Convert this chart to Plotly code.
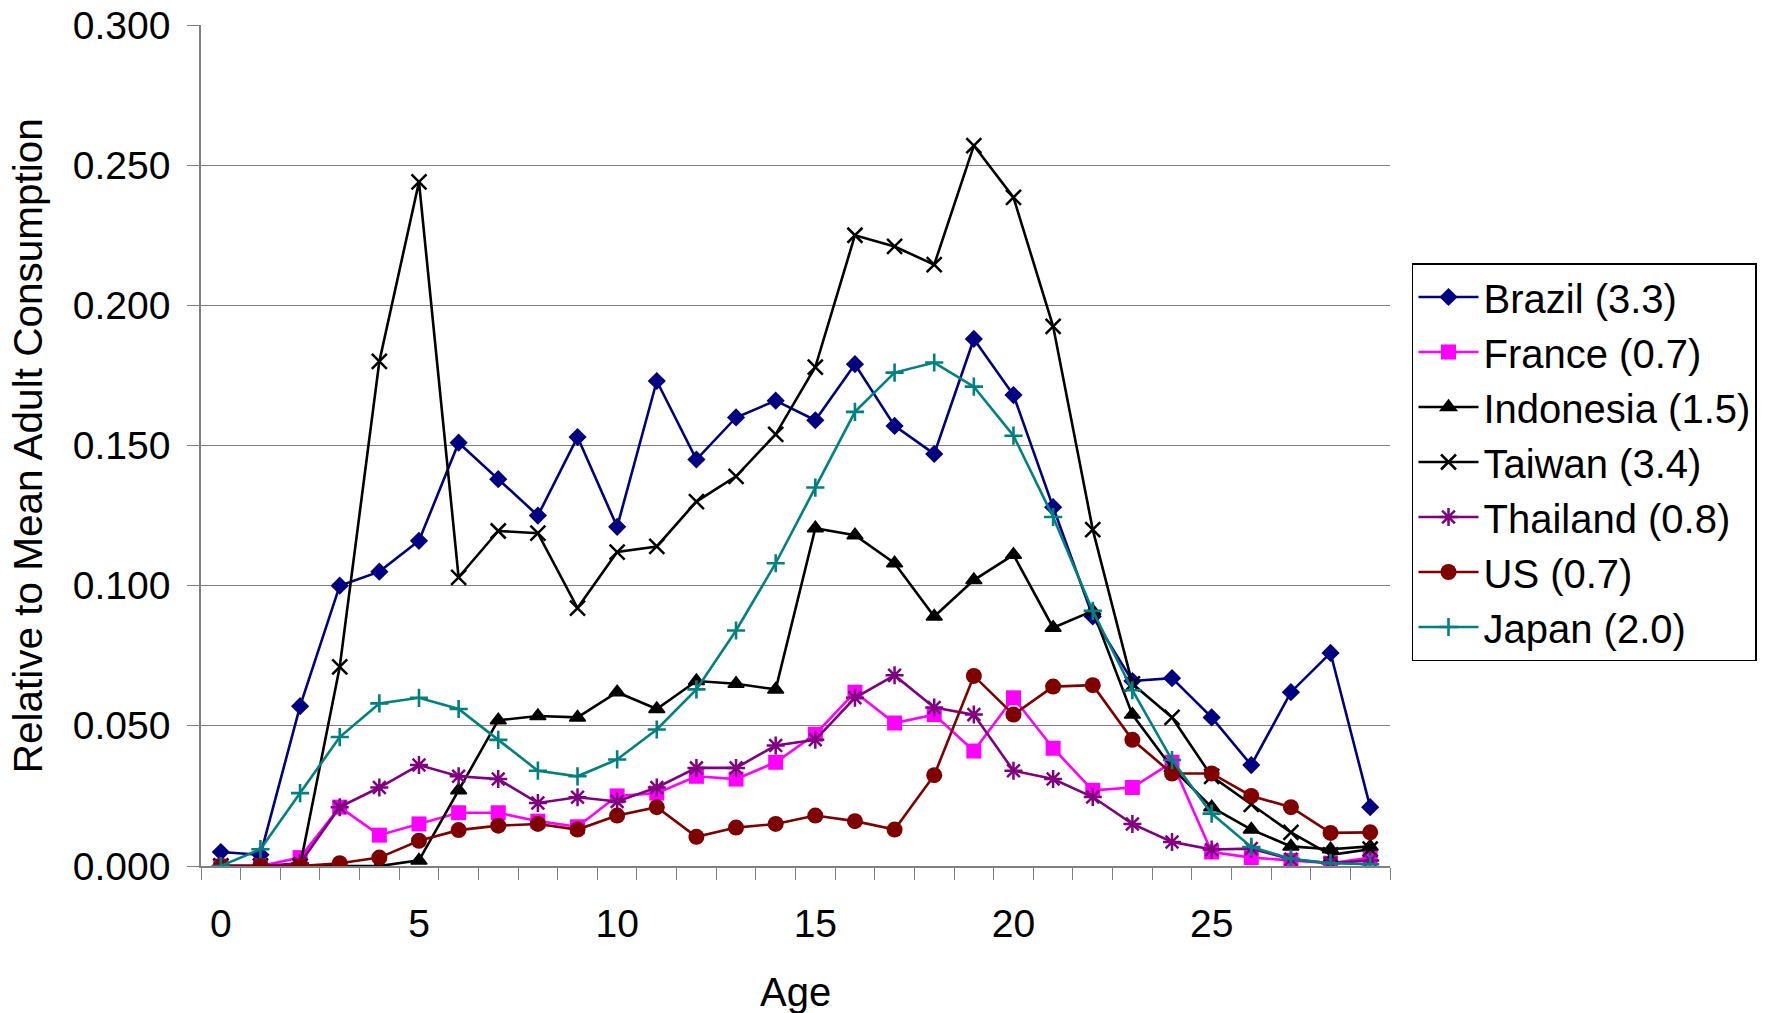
import plotly.graph_objects as go

ages = list(range(30))

brazil = [0.005, 0.004, 0.057, 0.100, 0.105, 0.116, 0.151, 0.138, 0.125, 0.153,
          0.121, 0.173, 0.145, 0.160, 0.166, 0.159, 0.179, 0.157, 0.147, 0.188,
          0.168, 0.128, 0.089, 0.066, 0.067, 0.053, 0.036, 0.062, 0.076, 0.021]
france = [0.000, 0.000, 0.003, 0.021, 0.011, 0.015, 0.019, 0.019, 0.016, 0.014,
          0.025, 0.026, 0.032, 0.031, 0.037, 0.047, 0.062, 0.051, 0.054, 0.041,
          0.060, 0.042, 0.027, 0.028, 0.037, 0.005, 0.003, 0.002, 0.001, 0.003]
indonesia = [0.000, 0.000, 0.000, 0.000, 0.000, 0.002, 0.027, 0.052, 0.0535, 0.053,
             0.062, 0.056, 0.066, 0.065, 0.063, 0.1205, 0.118, 0.108, 0.089, 0.102,
             0.111, 0.085, 0.091, 0.054, 0.035, 0.021, 0.013, 0.007, 0.006, 0.007]
taiwan = [0.000, 0.000, 0.000, 0.071, 0.180, 0.244, 0.103, 0.1195, 0.1187, 0.092,
          0.112, 0.114, 0.130, 0.139, 0.154, 0.178, 0.225, 0.221, 0.2145, 0.257,
          0.2385, 0.1925, 0.120, 0.065, 0.053, 0.032, 0.022, 0.012, 0.004, 0.006]
thailand = [0.000, 0.000, 0.001, 0.021, 0.028, 0.036, 0.032, 0.031, 0.0225, 0.0245,
            0.023, 0.028, 0.035, 0.035, 0.043, 0.045, 0.060, 0.068, 0.0565, 0.054,
            0.034, 0.031, 0.0246, 0.015, 0.0086, 0.0059, 0.0062, 0.0024, 0.001, 0.002]
us = [0.000, 0.000, 0.000, 0.001, 0.003, 0.009, 0.0128, 0.0144, 0.015, 0.013,
      0.018, 0.021, 0.0104, 0.0137, 0.015, 0.018, 0.016, 0.013, 0.0324, 0.0678,
      0.054, 0.064, 0.0645, 0.045, 0.033, 0.033, 0.025, 0.021, 0.0118, 0.012]
japan = [0.000, 0.006, 0.026, 0.046, 0.058, 0.060, 0.056, 0.045, 0.034, 0.032,
         0.038, 0.0487, 0.063, 0.084, 0.108, 0.135, 0.162, 0.176, 0.1796, 0.171,
         0.1535, 0.1245, 0.091, 0.0627, 0.0378, 0.0187, 0.0068, 0.0026, 0.001, 0.0006]

series_names = ["Brazil (3.3)", "France (0.7)", "Indonesia (1.5)", "Taiwan (3.4)",
                "Thailand (0.8)", "US (0.7)", "Japan (2.0)"]
series_values = [brazil, france, indonesia, taiwan, thailand, us, japan]

x_tick_labels = ["0", "5", "10", "15", "20", "25"]
x_tick_vals = [0, 5, 10, 15, 20, 25]

styles = [
    dict(color="#000080", symbol="diamond", size=14, mlw=0),
    dict(color="#FF00FF", symbol="square", size=15, mlw=0),
    dict(color="#000000", symbol="triangle-up", size=14, mlw=1.5),
    dict(color="#000000", symbol="x-thin-open", size=15, mlw=2.5),
    dict(color="#800080", symbol="asterisk-open", size=15, mlw=2.5),
    dict(color="#800000", symbol="circle", size=16, mlw=0),
    dict(color="#008080", symbol="cross-thin-open", size=13, mlw=2.6),
]

FONT = "Liberation Sans, Arial, sans-serif"

fig = go.Figure()
for i, (name, vals, st) in enumerate(zip(series_names, series_values, styles)):
    fig.add_trace(go.Scatter(
        x=ages, y=vals, name=name, mode="lines+markers",
        legendgroup=f"g{i}",
        line=dict(color=st["color"], width=2.6),
        marker=dict(symbol=st["symbol"], size=st["size"], color=st["color"],
                    line=dict(color=st["color"], width=st["mlw"])),
    ))

fig.update_layout(
    width=1775, height=1013,
    margin=dict(l=201, r=385, t=25, b=147, autoexpand=False),
    paper_bgcolor="white", plot_bgcolor="white",
    font=dict(family=FONT, size=38, color="black"),
    showlegend=True,
    legend=dict(
        x=1.0185, xanchor="left", y=0.717, yanchor="top",
        bordercolor="black", borderwidth=1.5, bgcolor="white",
        font=dict(family=FONT, size=40, color="black"),
        tracegroupgap=0, itemwidth=60,
    ),
    xaxis=dict(
        range=[-0.5, 29.5], tickmode="array", tickvals=x_tick_vals, ticktext=x_tick_labels,
        ticks="", showgrid=False, zeroline=False,
        showline=True, linecolor="#808080", linewidth=1.5,
        tickfont=dict(family=FONT, size=39, color="black"),
        ticklabelstandoff=22,
        minor=dict(tickmode="array", tickvals=[k - 0.5 for k in range(31)],
                   ticks="outside", ticklen=12, tickcolor="#808080", tickwidth=1.3,
                   showgrid=False),
        automargin=False,
    ),
    yaxis=dict(
        range=[0, 0.3], tickmode="linear", tick0=0, dtick=0.05, tickformat=".3f",
        ticks="outside", ticklen=12, tickcolor="#808080", tickwidth=1.3,
        showgrid=True, gridcolor="#808080", gridwidth=1.3,
        zeroline=False, showline=True, linecolor="#808080", linewidth=1.5,
        tickfont=dict(family=FONT, size=39, color="black"),
        ticklabelstandoff=9,
        automargin=False,
    ),
    annotations=[
        dict(text="Relative to Mean Adult Consumption", xref="paper", yref="paper",
             x=-0.1455, y=0.499, xanchor="center", yanchor="middle", textangle=-90,
             showarrow=False, font=dict(family=FONT, size=40.5, color="black")),
        dict(text="Age", xref="paper", yref="paper",
             x=0.5004, y=-0.1502, xanchor="center", yanchor="middle",
             showarrow=False, font=dict(family=FONT, size=40, color="black")),
    ],
)

fig.write_html("out.html")
